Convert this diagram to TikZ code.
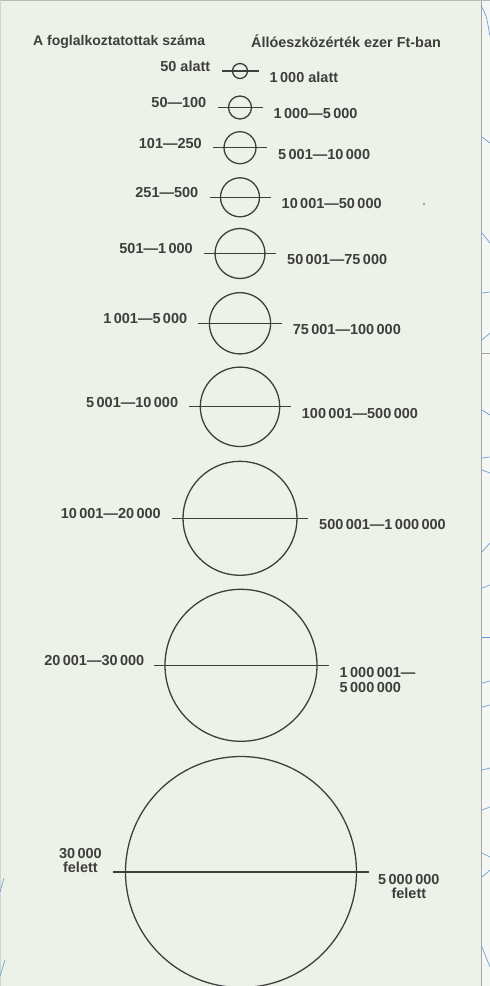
\documentclass[tikz,border=0pt]{standalone}
\usepackage{fontspec}
\setmainfont{Liberation Sans}
\usetikzlibrary{calc}
\definecolor{paper}{RGB}{237,242,232}
\definecolor{strip}{RGB}{244,247,243}
\definecolor{ink}{RGB}{62,62,62}
\definecolor{mapblue}{RGB}{95,150,215}
\begin{document}
\begin{tikzpicture}[x=1pt,y=-1pt,
  ring/.style={circle, draw=ink, line width=1.3pt, inner sep=0pt, outer sep=0pt, minimum size=#1},
  diam/.style={draw=ink, line width=1.3pt},
  lab/.style={font=\bfseries\fontsize{14.5}{14.2}\selectfont, text=ink, inner sep=0pt},
  head/.style={font=\bfseries\fontsize{14}{16}\selectfont, text=ink, inner sep=0pt},
  edge/.style={draw=gray!70, line width=0.8pt},
  bluemark/.style={draw=mapblue, line width=0.6pt}
]
\fill[paper] (0,0) rectangle (490,986);
\useasboundingbox (0,0) rectangle (490,986);
% right strip and edges
\fill[strip] (482,0) rectangle (490,986);
\draw[edge] (481.7,0) -- (481.7,986);
\draw[edge] (482,353) -- (490,353);
\draw[draw=gray!55, line width=1.2pt] (0,0.6) -- (490,0.6);
\draw[draw=gray!35, line width=0.8pt] (0.4,0) -- (0.4,986);
\draw[bluemark] (481,6) .. controls (486,14) .. (490,36);
\foreach \ya/\yb in {137/143, 233/243, 293/292, 340/333, 410/415, 458/457, 470/473, 552/543, 588/585, 637/637, 683/681, 707/705, 770/768, 810/807, 853/857, 877/870, 947/967}
  \draw[bluemark] (482,\ya) -- (490,\yb);
\draw[bluemark] (0,892) -- (4,878);
\draw[bluemark] (0,976) -- (5,960);
% speck
\fill[ink] (424,204) circle (0.9);
% headers
\node[head, anchor=west] (h1) at (33,41.5) {A foglalkoztatottak száma};
\node[head, anchor=west, font=\bfseries\fontsize{14.4}{16}\selectfont] (h2) at (251,41.5) {Állóeszközérték ezer Ft-ban};
% rows with single-line labels
\foreach \i/\yy/\rr/\lt/\rt in {
  1/71/7.5/{50 alatt}/{1\,000 alatt},
  2/107.5/11.5/{50—100}/{1\,000—5\,000},
  3/147.7/16/{101—250}/{5\,001—10\,000},
  4/197.3/19.5/{251—500}/{10\,001—50\,000},
  5/253.5/25/{501—1\,000}/{50\,001—75\,000},
  6/323.3/30.6/{1\,001—5\,000}/{75\,001—100\,000},
  7/406.8/39.7/{5\,001—10\,000}/{100\,001—500\,000},
  8/518.3/57/{10\,001—20\,000}/{500\,001—1\,000\,000}} {
  \node[ring=2*\rr] (c\i) at (240,\yy) {};
  \coordinate (l\i) at ($(c\i.west)+(-11,0)$);
  \coordinate (r\i) at ($(c\i.east)+(11,0)$);
  \draw[diam] (l\i) -- (r\i);
  \node[lab, anchor=east] (a\i) at ($(l\i)+(-11,-4.5)$) {\lt};
  \node[lab, anchor=west] (b\i) at ($(r\i)+(11,6.5)$) {\rt};
}
% row 9
\node[ring=152] (c9) at (241,665.3) {};
\coordinate (l9) at ($(c9.west)+(-11,0)$);
\coordinate (r9) at ($(c9.east)+(12,0)$);
\draw[diam] (l9) -- (r9);
\node[lab, anchor=east] (a9) at ($(l9)+(-9.5,-4.8)$) {20\,001—30\,000};
\node[lab, anchor=west, align=left] (b9) at ($(r9)+(10.5,14.6)$) {1\,000\,001—\\5\,000\,000};
% row 10
\node[ring=231] (c10) at (241,872) {};
\coordinate (l10) at ($(c10.west)+(-12.5,0)$);
\coordinate (r10) at ($(c10.east)+(12,0)$);
\draw[diam] (l10) -- (r10);
\node[lab, anchor=east, align=center] (a10) at ($(l10)+(-11,-11.8)$) {30\,000\\felett};
\node[lab, anchor=west, align=center] (b10) at ($(r10)+(9.5,14.3)$) {5\,000\,000\\felett};
\end{tikzpicture}
\end{document}
